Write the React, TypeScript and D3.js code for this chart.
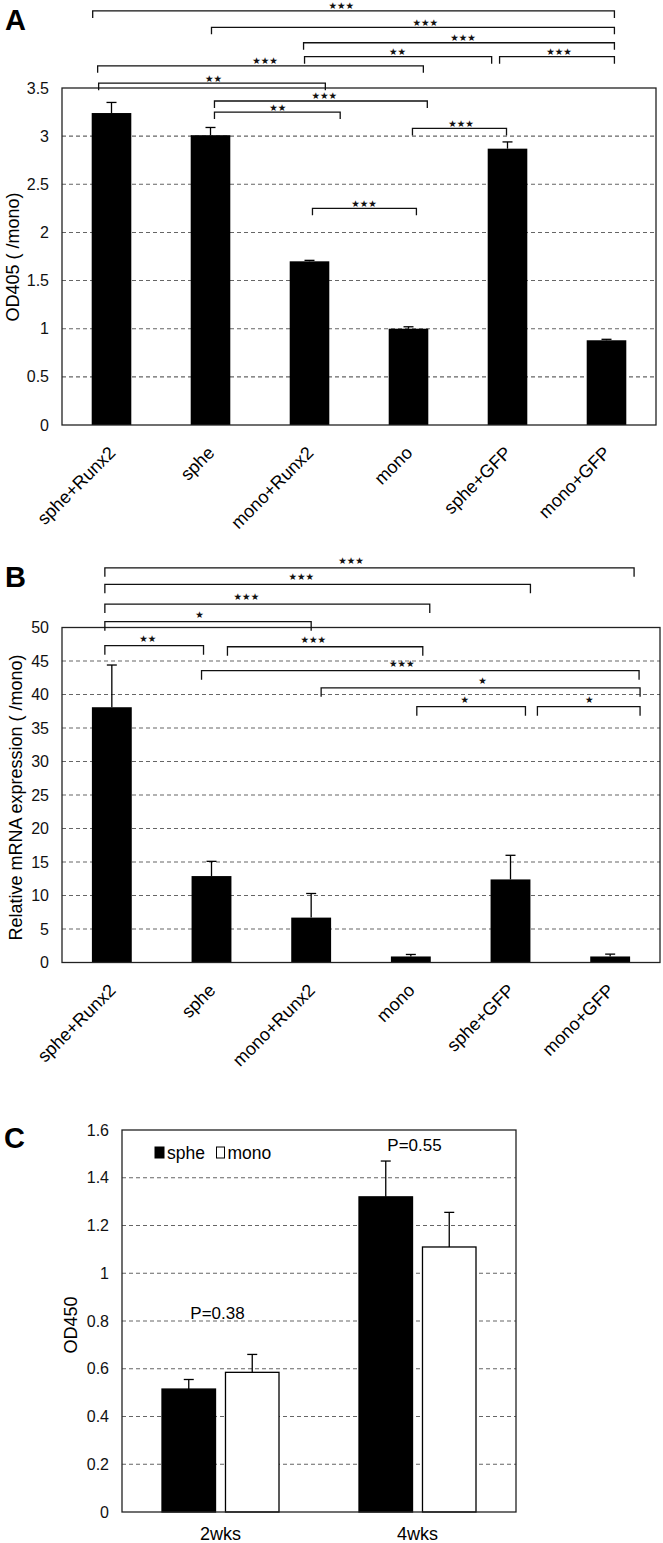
import React from "react";
import * as d3 from "d3";

// ---------- data ----------
const categories = ["sphe+Runx2", "sphe", "mono+Runx2", "mono", "sphe+GFP", "mono+GFP"];

// Panel A: OD405 (/mono)
const odValues = [3.24, 3.01, 1.7, 1.0, 2.87, 0.88];
const odErrors = [0.11, 0.08, 0.01, 0.02, 0.07, 0.01];
const odTicks = [0, 0.5, 1, 1.5, 2, 2.5, 3, 3.5];

// Panel B: relative mRNA expression (/mono)
const mrnaValues = [38.1, 12.9, 6.7, 0.9, 12.4, 0.9];
const mrnaErrors = [6.3, 2.2, 3.6, 0.3, 3.6, 0.35];
const mrnaTicks = [0, 5, 10, 15, 20, 25, 30, 35, 40, 45, 50];

// Panel C: OD450
const weeks = ["2wks", "4wks"];
const seriesNames = ["sphe", "mono"];
const spheValues = [0.515, 1.32];
const spheErrors = [0.04, 0.15];
const monoValues = [0.585, 1.11];
const monoErrors = [0.075, 0.145];
const od450Ticks = [0, 0.2, 0.4, 0.6, 0.8, 1, 1.2, 1.4, 1.6];
const pLabels = ["P=0.38", "P=0.55"];
const pLabelLevels = [0.81, 1.51];

// significance brackets: x in category-index units, y in data units
const bracketsA = [
  { x1: -0.19, x2: 5.08, y: 4.3, label: "***", lx: 2.32 },
  { x1: 1.01, x2: 5.08, y: 4.13, label: "***", lx: 3.17 },
  { x1: 1.94, x2: 5.08, y: 3.97, label: "***", lx: 3.55 },
  { x1: 1.95, x2: 3.84, y: 3.825, label: "**", lx: 2.89 },
  { x1: 3.92, x2: 5.08, y: 3.825, label: "***", lx: 4.52 },
  { x1: -0.14, x2: 3.15, y: 3.73, label: "***", lx: 1.55 },
  { x1: -0.13, x2: 2.16, y: 3.55, label: "**", lx: 1.03 },
  { x1: 1.04, x2: 3.19, y: 3.365, label: "***", lx: 2.15 },
  { x1: 1.04, x2: 2.31, y: 3.25, label: "**", lx: 1.68 },
  { x1: 3.04, x2: 3.99, y: 3.08, label: "***", lx: 3.53 },
  { x1: 2.03, x2: 3.08, y: 2.25, label: "***", lx: 2.55 },
];

const bracketsB = [
  { x1: -0.07, x2: 5.24, y: 58.9, label: "***", lx: 2.4 },
  { x1: -0.07, x2: 4.2, y: 56.45, label: "***", lx: 1.9 },
  { x1: -0.07, x2: 3.19, y: 53.5, label: "***", lx: 1.35 },
  { x1: -0.07, x2: 2.0, y: 50.87, label: "*", lx: 0.88 },
  { x1: -0.07, x2: 0.92, y: 47.28, label: "**", lx: 0.36 },
  { x1: 1.16, x2: 3.12, y: 47.13, label: "***", lx: 2.02 },
  { x1: 0.9, x2: 5.29, y: 43.55, label: "***", lx: 2.91 },
  { x1: 2.1, x2: 5.3, y: 41.0, label: "*", lx: 3.72 },
  { x1: 3.06, x2: 4.15, y: 38.18, label: "*", lx: 3.54 },
  { x1: 4.27, x2: 5.3, y: 38.18, label: "*", lx: 4.79 },
];

// ---------- style ----------
const FONT = "'Liberation Sans', Arial, Helvetica, sans-serif";
const STAR_FONT = "'DejaVu Sans', sans-serif";
const GRID = "#666";
const FRAME = "#222";

const toStars = (s: string) => s.replace(/\*/g, "\u2605");

type Bracket = { x1: number; x2: number; y: number; label: string; lx: number };

function Brackets({ data, xi, y, tick, lift }: { data: Bracket[]; xi: any; y: any; tick: number; lift: number }) {
  return (
    <g>
      {data.map((b, i) => {
        const X1 = xi(b.x1), X2 = xi(b.x2), Y = y(b.y);
        return (
          <g key={i}>
            <path d={`M${X1},${Y + tick}V${Y}H${X2}V${Y + tick}`} fill="none" stroke="#111" strokeWidth={1.3} />
            <text x={xi(b.lx)} y={Y - lift} textAnchor="middle" fontFamily={STAR_FONT} fontSize={9.5} fill="#111">
              {toStars(b.label)}
            </text>
          </g>
        );
      })}
    </g>
  );
}

function CategoryPanel({
  values, errors, ticks, x0, x1, y0, y1, vmax, title, titleX, titleY, letter, letterY, brackets, tick, lift,
}: any) {
  const x = d3.scaleBand().domain(categories).range([x0, x1]);
  const bw = x.bandwidth();
  const cx = (c: string) => (x(c) as number) + bw / 2;
  const xi = d3.scaleLinear().domain([0, categories.length - 1]).range([cx(categories[0]), cx(categories[categories.length - 1])]);
  const y = d3.scaleLinear().domain([0, vmax]).range([y0, y1]);
  const barW = bw * 0.4;
  return (
    <g>
      <text x={5} y={letterY} fontFamily={FONT} fontWeight="bold" fontSize={29} fill="#000">{letter}</text>
      {ticks.filter((t: number) => t > 0 && t < vmax).map((t: number) => (
        <line key={t} x1={x0} x2={x1} y1={y(t)} y2={y(t)} stroke={GRID} strokeWidth={1.1} strokeDasharray="4,3" />
      ))}
      {ticks.map((t: number) => (
        <text key={"l" + t} x={x0 - 13} y={y(t)} dy="0.35em" textAnchor="end" fontFamily={FONT} fontSize={16} fill="#111">
          {String(t)}
        </text>
      ))}
      {categories.map((c, i) => (
        <g key={c}>
          <rect x={cx(c) - barW / 2} y={y(values[i])} width={barW} height={y(0) - y(values[i])} fill="#000" />
          <line x1={cx(c)} x2={cx(c)} y1={y(values[i])} y2={y(values[i] + errors[i])} stroke="#000" strokeWidth={1.3} />
          <line x1={cx(c) - 5} x2={cx(c) + 5} y1={y(values[i] + errors[i])} y2={y(values[i] + errors[i])} stroke="#000" strokeWidth={1.3} />
          <text transform={`translate(${cx(c) + 5},${y(0) + 29}) rotate(-45)`} textAnchor="end" fontFamily={FONT} fontSize={18} fill="#000">
            {c}
          </text>
        </g>
      ))}
      <rect x={x0} y={y(vmax)} width={x1 - x0} height={y(0) - y(vmax)} fill="none" stroke={FRAME} strokeWidth={1.3} />
      <Brackets data={brackets} xi={xi} y={y} tick={tick} lift={lift} />
      <text transform={`translate(${titleX},${titleY}) rotate(-90)`} textAnchor="middle" fontFamily={FONT} fontSize={18} fill="#000">
        {title}
      </text>
    </g>
  );
}

function PanelC() {
  const x0 = 122, x1 = 516, y0 = 1512, y1 = 1130;
  const x = d3.scaleBand().domain(weeks).range([x0, x1]);
  const y = d3.scaleLinear().domain([0, 1.6]).range([y0, y1]);
  const groupW = 117;
  const fmt = (v: number) => String(+v.toFixed(1));
  const series = [
    { name: seriesNames[0], values: spheValues, errors: spheErrors, fill: "#000" },
    { name: seriesNames[1], values: monoValues, errors: monoErrors, fill: "#fff" },
  ];
  return (
    <g>
      <text x={4} y={1148} fontFamily={FONT} fontWeight="bold" fontSize={29} fill="#000">C</text>
      {od450Ticks.filter((t) => t > 0 && t < 1.6).map((t) => (
        <line key={t} x1={x0} x2={x1} y1={y(t)} y2={y(t)} stroke={GRID} strokeWidth={1.1} strokeDasharray="4,3" />
      ))}
      {od450Ticks.map((t) => (
        <text key={"l" + t} x={x0 - 13} y={y(t)} dy="0.35em" textAnchor="end" fontFamily={FONT} fontSize={16} fill="#111">
          {fmt(t)}
        </text>
      ))}
      {weeks.map((w, gi) => {
        const gc = (x(w) as number) + x.bandwidth() / 2;
        const inner = d3.scaleBand().domain(seriesNames).range([gc - groupW / 2, gc + groupW / 2]).paddingInner(0.157);
        return (
          <g key={w}>
            {series.map((s) => {
              const bx = inner(s.name) as number;
              const bwid = inner.bandwidth();
              const c = bx + bwid / 2;
              const v = s.values[gi], e = s.errors[gi];
              return (
                <g key={s.name}>
                  <line x1={c} x2={c} y1={y(v)} y2={y(v + e)} stroke="#000" strokeWidth={1.3} />
                  <line x1={c - 5} x2={c + 5} y1={y(v + e)} y2={y(v + e)} stroke="#000" strokeWidth={1.3} />
                  <rect x={bx} y={y(v)} width={bwid} height={y(0) - y(v)} fill={s.fill} stroke="#000" strokeWidth={1.3} />
                </g>
              );
            })}
            <text x={gc} y={y0 + 28} textAnchor="middle" fontFamily={FONT} fontSize={18} fill="#000">{w}</text>
            <text x={gc - 3} y={y(pLabelLevels[gi])} textAnchor="middle" fontFamily={FONT} fontSize={17} fill="#000">{pLabels[gi]}</text>
          </g>
        );
      })}
      <rect x={x0} y={y1} width={x1 - x0} height={y0 - y1} fill="none" stroke={FRAME} strokeWidth={1.3} />
      {/* legend */}
      <rect x={155} y={1147} width={9} height={11} fill="#000" stroke="#000" strokeWidth={1} />
      <text x={167} y={1158.5} fontFamily={FONT} fontSize={17.5} fill="#000">{seriesNames[0]}</text>
      <rect x={216.5} y={1147} width={8} height={11} fill="#fff" stroke="#000" strokeWidth={1} />
      <text x={227.5} y={1158.5} fontFamily={FONT} fontSize={17.5} fill="#000">{seriesNames[1]}</text>
      <text transform={`translate(76.5,1325) rotate(-90)`} textAnchor="middle" fontFamily={FONT} fontSize={18} fill="#000">OD450</text>
    </g>
  );
}

export default function App() {
  return (
    <svg width={663} height={1543} style={{ position: "absolute", left: 0, top: 0, background: "#fff" }}>
      <rect x={0} y={0} width={663} height={1543} fill="#fff" />
      <CategoryPanel
        values={odValues} errors={odErrors} ticks={odTicks}
        x0={62} x1={656} y0={425} y1={88} vmax={3.5}
        title="OD405 ( /mono)" titleX={18.5} titleY={257}
        letter="A" letterY={30}
        brackets={bracketsA} tick={7} lift={1.5}
      />
      <CategoryPanel
        values={mrnaValues} errors={mrnaErrors} ticks={mrnaTicks}
        x0={62} x1={660} y0={962.5} y1={627.5} vmax={50}
        title="Relative mRNA expression ( /mono)" titleX={22} titleY={797.5}
        letter="B" letterY={587}
        brackets={bracketsB} tick={9} lift={4}
      />
      <PanelC />
    </svg>
  );
}
